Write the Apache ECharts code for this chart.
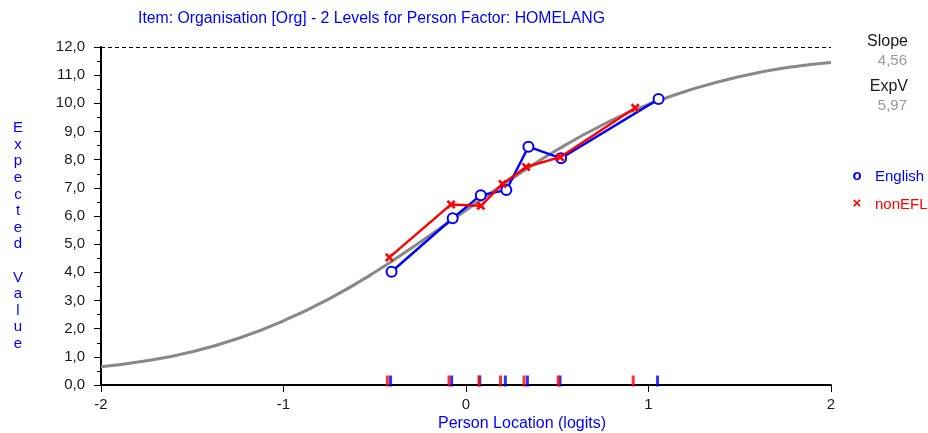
<!DOCTYPE html>
<html>
<head>
<meta charset="utf-8">
<script src="https://cdn.jsdelivr.net/npm/echarts@6/dist/echarts.min.js"></script>
<style>
  html, body { margin: 0; padding: 0; background: #fff; }
  #chart { width: 928px; height: 433px; }
</style>
</head>
<body>
<div id="chart"></div>
<script>
// Expected-value curve of the item (model ICC), sampled every 0.25 logits
const curveX = [-2, -1.75, -1.5, -1.25, -1, -0.75, -0.5, -0.25, 0, 0.25, 0.5, 0.75, 1, 1.25, 1.5, 1.75, 2];
const curveY = [0.65, 0.86, 1.18, 1.65, 2.28, 3.06, 4.0, 5.08, 6.2, 7.32, 8.35, 9.24, 9.96, 10.52, 10.95, 11.26, 11.45];

// Observed class-interval means, English group
const englishX = [-0.408, -0.073, 0.081, 0.221, 0.342, 0.521, 1.055];
const englishY = [4.02, 5.92, 6.74, 6.92, 8.46, 8.05, 10.15];

// Observed class-interval means, nonEFL group
const nonEflX = [-0.420, -0.082, 0.082, 0.200, 0.329, 0.516, 0.927];
const nonEflY = [4.53, 6.41, 6.36, 7.14, 7.74, 8.09, 9.84];

const xTicks = [-2, -1, 0, 1, 2];
const yMin = 0, yMax = 12, yStep = 1;

const slopeText = '4,56';
const expVText = '5,97';
const titleText = 'Item: Organisation [Org] - 2 Levels for Person Factor: HOMELANG';
const xTitle = 'Person Location (logits)';
const yTitle = 'Expected Value';
const groupNames = ['English', 'nonEFL'];

const FONT = '"Liberation Sans", Arial, sans-serif';
const BLUE = '#0000ff';
const RED = '#ff0000';

const pairs = (xs, ys) => xs.map((x, i) => [x, ys[i]]);
const rug = xs => xs.map(x => [x, 0]);
const crossPath = 'path://M2,0L5,3L8,0L10,2L7,5L10,8L8,10L5,7L2,10L0,8L3,5L0,2Z';

const chart = echarts.init(document.getElementById('chart'), null, { renderer: 'canvas' });

chart.setOption({
  animation: false,
  backgroundColor: '#fff',
  grid: { left: 101, right: 97, top: 47, bottom: 48, containLabel: false },
  xAxis: {
    type: 'value',
    min: xTicks[0],
    max: xTicks[xTicks.length - 1],
    interval: 1,
    axisLine: { show: true, onZero: false, lineStyle: { color: '#000', width: 2 } },
    axisTick: { show: true, length: 7, lineStyle: { color: '#000', width: 1 } },
    splitLine: { show: false },
    axisLabel: {
      color: '#1a1a1a', fontFamily: FONT, fontSize: 15, margin: 12,
      formatter: v => String(v)
    }
  },
  yAxis: {
    type: 'value',
    min: yMin,
    max: yMax,
    interval: yStep,
    axisLine: { show: true, onZero: false, lineStyle: { color: '#000', width: 2 } },
    axisTick: { show: true, length: 7, lineStyle: { color: '#000', width: 1 } },
    minorTick: { show: true, splitNumber: 2, length: 4, lineStyle: { color: '#000', width: 1 } },
    splitLine: { show: false },
    axisLabel: {
      color: '#1a1a1a', fontFamily: FONT, fontSize: 15, margin: 16,
      formatter: v => v.toFixed(1).replace('.', ',')
    }
  },
  series: [
    {
      type: 'line',
      data: pairs(curveX, curveY),
      smooth: true,
      showSymbol: false,
      lineStyle: { color: '#888888', width: 3 },
      silent: true,
      z: 1,
      markLine: {
        silent: true,
        symbol: 'none',
        label: { show: false },
        lineStyle: { color: '#000', width: 1, type: [4, 3] },
        data: [{ yAxis: yMax }]
      }
    },
    {
      name: groupNames[0],
      type: 'line',
      data: pairs(englishX, englishY),
      symbol: 'circle',
      symbolSize: 10,
      showAllSymbol: true,
      itemStyle: { color: '#fff', borderColor: BLUE, borderWidth: 2 },
      lineStyle: { color: BLUE, width: 2.4 },
      z: 3
    },
    {
      name: groupNames[1],
      type: 'line',
      data: pairs(nonEflX, nonEflY),
      symbol: crossPath,
      symbolSize: 9,
      showAllSymbol: true,
      itemStyle: { color: RED },
      lineStyle: { color: RED, width: 2.4 },
      z: 4
    },
    {
      type: 'scatter',
      data: rug(englishX),
      symbol: 'rect',
      symbolSize: [3, 11],
      symbolOffset: [-1, -4],
      itemStyle: { color: BLUE },
      clip: false,
      silent: true,
      z: 5
    },
    {
      type: 'scatter',
      data: rug(nonEflX),
      symbol: 'rect',
      symbolSize: [3, 11],
      symbolOffset: [-2, -4],
      itemStyle: { color: RED },
      clip: false,
      silent: true,
      z: 5
    }
  ],
  graphic: [
    {
      type: 'text', x: 138, y: 19,
      style: { text: titleText, fill: BLUE, font: '15.8px ' + FONT, verticalAlign: 'middle' }
    },
    {
      type: 'text', x: 522, y: 424,
      style: { text: xTitle, fill: BLUE, font: '16px ' + FONT, align: 'center', verticalAlign: 'middle' }
    },
    {
      type: 'text', x: 18, y: 236,
      style: {
        text: yTitle.split('').join('\n'),
        fill: BLUE, font: '15px ' + FONT, align: 'center', verticalAlign: 'middle', lineHeight: 16.6
      }
    },
    {
      type: 'text', x: 908, y: 42,
      style: { text: 'Slope', fill: '#1a1a1a', font: '16px ' + FONT, align: 'right', verticalAlign: 'middle' }
    },
    {
      type: 'text', x: 907, y: 61,
      style: { text: slopeText, fill: '#999999', font: '15px ' + FONT, align: 'right', verticalAlign: 'middle' }
    },
    {
      type: 'text', x: 908, y: 87,
      style: { text: 'ExpV', fill: '#1a1a1a', font: '16px ' + FONT, align: 'right', verticalAlign: 'middle' }
    },
    {
      type: 'text', x: 907, y: 106,
      style: { text: expVText, fill: '#999999', font: '15px ' + FONT, align: 'right', verticalAlign: 'middle' }
    },
    {
      type: 'text', x: 857, y: 176,
      style: { text: 'o', fill: BLUE, font: 'bold 15px ' + FONT, align: 'center', verticalAlign: 'middle' }
    },
    {
      type: 'text', x: 875, y: 177,
      style: { text: groupNames[0], fill: BLUE, font: '15px ' + FONT, align: 'left', verticalAlign: 'middle' }
    },
    {
      type: 'text', x: 857, y: 204,
      style: { text: '×', fill: RED, font: 'bold 15px ' + FONT, align: 'center', verticalAlign: 'middle' }
    },
    {
      type: 'text', x: 875, y: 205,
      style: { text: groupNames[1], fill: RED, font: '15px ' + FONT, align: 'left', verticalAlign: 'middle' }
    }
  ]
});
</script>
</body>
</html>
